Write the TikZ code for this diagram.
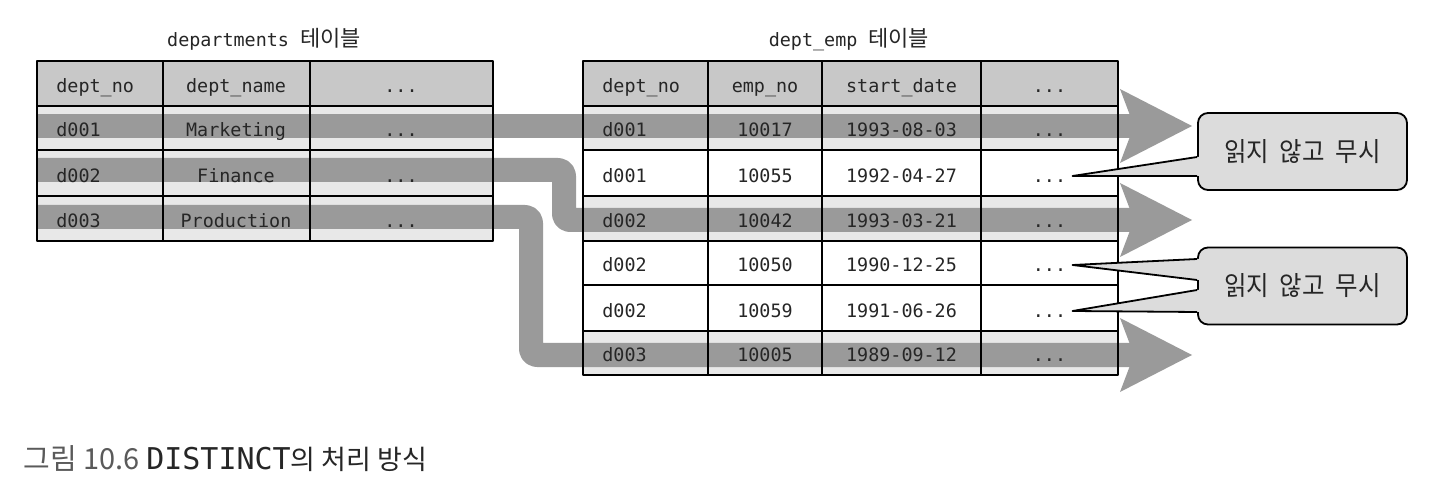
\documentclass[tikz,border=0pt]{standalone}
\usepackage{fontspec}
\setmonofont{DejaVu Sans Mono}
\newfontfamily\krfont{Noto Sans CJK KR}
\newfontfamily\krnarrow[FakeStretch=0.92]{Noto Sans CJK KR}
\usepackage{xcolor}
\usepackage{tikz}
\usetikzlibrary{calc}

\definecolor{hdrgray}{HTML}{C8C8C8}
\definecolor{rowgray}{HTML}{E8E8E8}
\definecolor{flowgray}{HTML}{9A9A9A}
\definecolor{boxgray}{HTML}{DCDCDC}
\definecolor{txtgray}{HTML}{262626}
\definecolor{capgray}{HTML}{5A5A5A}

\begin{document}
\begin{tikzpicture}[x=0.5pt,y=-0.5pt,line join=round,
  cell/.style={font=\ttfamily\fontsize{9.2}{11}\selectfont,text=txtgray,inner sep=0pt},
  grid/.style={line width=1pt},
  flow/.style={line width=12pt,draw=flowgray,rounded corners=3pt},
  note/.style={draw,line width=0.9pt,fill=boxgray,rounded corners=5pt,
    minimum width=104.5pt,minimum height=38.5pt,text=txtgray,
    font=\krnarrow\fontsize{13.3}{15}\selectfont}]
  \useasboundingbox (0,0) rectangle (1430,497);
  \fill[white] (0,0) rectangle (1430,497);
  % row shading
  \fill[hdrgray] (37,61) rectangle (493,106);
  \fill[rowgray] (37,106) rectangle (493,241);
  \fill[hdrgray] (583,61) rectangle (1118,106);
  \fill[rowgray] (583,106) rectangle (1118,150);
  \fill[rowgray] (583,196) rectangle (1118,241);
  \fill[rowgray] (583,331) rectangle (1118,375);
  % flows
  \coordinate (s1) at (37,126);
  \coordinate (s2) at (37,170);
  \coordinate (s3) at (37,217);
  \coordinate (k2) at (564,220);
  \coordinate (k3) at (531,355);
  \coordinate (e1) at (1134,126);
  \coordinate (e2) at (1134,220);
  \coordinate (e3) at (1134,355);
  \draw[flow] (s1) -- (e1);
  \draw[flow] (s2) -| (k2) -- (e2);
  \draw[flow] (s3) -| (k3) -- (e3);
  \foreach \e in {e1,e2,e3}
    \fill[flowgray] ($(\e)+(-14,-37)$) -- ($(\e)+(58,0)$) -- ($(\e)+(-14,37)$) -- (\e) -- cycle;
  % grids
  \draw[grid] (37,61) rectangle (493,241);
  \draw[grid] (163,61) -- (163,241) (310,61) -- (310,241);
  \foreach \y in {106,150,196} \draw[grid] (37,\y) -- (493,\y);
  \draw[grid] (583,61) rectangle (1118,375);
  \foreach \x in {708,822,981} \draw[grid] (\x,61) -- (\x,375);
  \foreach \y in {106,150,196,241,285,331} \draw[grid] (583,\y) -- (1118,\y);
  % titles
  \node[cell,anchor=base] (dep-title) at (264,47) {departments {\krfont\fontsize{11}{13}\selectfont 테이블}};
  \node[cell,anchor=base] (emp-title) at (849,47) {dept\_emp {\krfont\fontsize{11}{13}\selectfont 테이블}};
  % departments
  \foreach \r/\yb/\a/\b in {0/92.5/dept\_no/dept\_name,1/136.5/d001/Marketing,
      2/182.5/d002/Finance,3/227.5/d003/Production}{
    \node[cell,anchor=base west] (dep-\r-1) at (56,\yb) {\a};
    \node[cell,anchor=base] (dep-\r-2) at (236,\yb) {\b};
    \node[cell,anchor=base] (dep-\r-3) at (401,\yb) {...};
  }
  % dept_emp
  \foreach \r/\yb/\a/\b/\c in {0/92.5/dept\_no/emp\_no/start\_date,
      1/136.5/d001/10017/1993-08-03,2/182.5/d001/10055/1992-04-27,
      3/227.5/d002/10042/1993-03-21,4/271.5/d002/10050/1990-12-25,
      5/317.5/d002/10059/1991-06-26,6/361.5/d003/10005/1989-09-12}{
    \node[cell,anchor=base west] (emp-\r-1) at (602,\yb) {\a};
    \node[cell,anchor=base] (emp-\r-2) at (765,\yb) {\b};
    \node[cell,anchor=base] (emp-\r-3) at (901.5,\yb) {\c};
    \node[cell,anchor=base] (emp-\r-4) at (1049.5,\yb) {...};
  }
  % callouts
  \node[note] (skip1) at (1302.5,151.5) {읽지\ \ 않고\ \ 무시};
  \node[note] (skip2) at (1302.5,286) {읽지\ \ 않고\ \ 무시};
  \coordinate (t1) at ($(emp-2-4.base east)+(6,-6.5)$);
  \coordinate (t2) at ($(emp-4-4.base east)+(6,-6.5)$);
  \coordinate (t3) at ($(emp-5-4.base east)+(6,-6.5)$);
  \foreach \b/\t/\u/\v in {skip1/t1/5.5/24.5,skip2/t2/-27/-6,skip2/t3/4/26}{
    \fill[boxgray] ($(\b.west)+(3,\u)$) -- ($(\b.west)+(0,\u)$) -- (\t)
      -- ($(\b.west)+(0,\v)$) -- ($(\b.west)+(3,\v)$) -- cycle;
    \draw[line width=0.9pt] ($(\b.west)+(0,\u)$) -- (\t) -- ($(\b.west)+(0,\v)$);
  }
  % caption
  \node[anchor=base west,inner sep=0pt] (cap) at (23,469)
    {\textcolor{capgray}{\krfont\fontsize{14.5}{17}\selectfont 그림 10.6}
     {\ttfamily\fontsize{15}{17}\selectfont\color{txtgray}DISTINCT}%
     {\krfont\fontsize{13.5}{17}\selectfont\color{txtgray}의 처리 방식}};
\end{tikzpicture}
\end{document}
